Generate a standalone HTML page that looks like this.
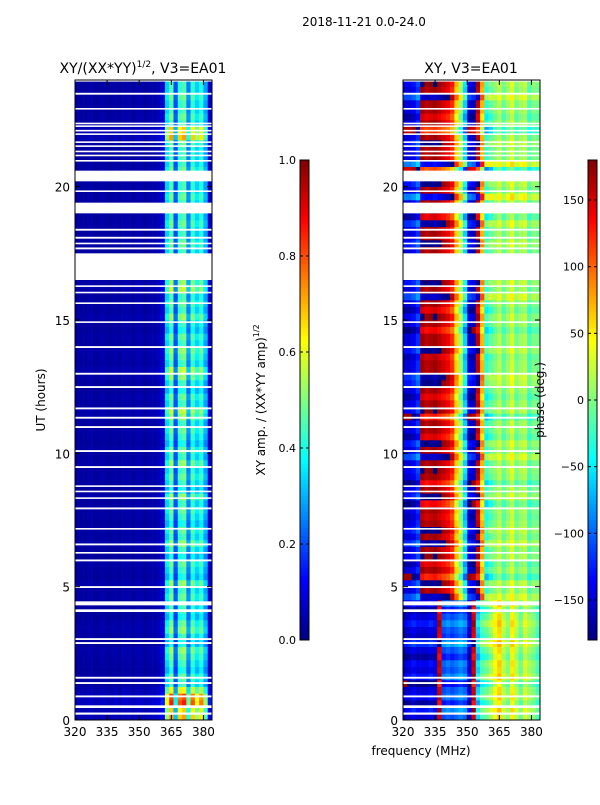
<!DOCTYPE html>
<html><head><meta charset="utf-8"><style>
html,body{margin:0;padding:0;background:#fff;}
svg text{font-family:"DejaVu Sans","Liberation Sans",sans-serif;fill:#000;}
</style></head><body>
<svg id="fig" xmlns="http://www.w3.org/2000/svg" width="600" height="800" viewBox="0 0 600 800">
<rect width="600" height="800" fill="#fff"/>
<text x="364" y="26" font-size="12" text-anchor="middle">2018-11-21 0.0-24.0</text>
<text x="143" y="73" font-size="14" text-anchor="middle">XY/(XX*YY)<tspan font-size="9" dy="-6">1/2</tspan><tspan dy="6">, V3=EA01</tspan></text>
<text x="471" y="73" font-size="14" text-anchor="middle">XY, V3=EA01</text>
<g id="amp"></g>
<g id="pha"></g>
<g id="gapsL"></g>
<g id="gapsR"></g>
<g id="axes"></g>
<text transform="translate(45,400) rotate(-90)" font-size="12" text-anchor="middle">UT (hours)</text>
<text transform="translate(265,400) rotate(-90)" font-size="12" text-anchor="middle">XY amp. / (XX*YY amp)<tspan font-size="8" dy="-6">1/2</tspan></text>
<text transform="translate(544,400) rotate(-90)" font-size="12" text-anchor="middle">phase (deg.)</text>
<text x="421" y="755" font-size="12" text-anchor="middle">frequency (MHz)</text>
</svg>
<script>
const freqs=[320,322,324,326,328,330,332,334,336,338,340,342,344,346,348,350,352,354,356,358,360,362,364,366,368,370,372,374,376,378,380,382];
const ampProfile=[0.03,0.03,0.03,0.04,0.03,0.03,0.04,0.03,0.03,0.04,0.03,0.04,0.04,0.03,0.04,0.04,0.03,0.04,0.04,0.05,0.08,0.33,0.45,0.2,0.42,0.45,0.25,0.42,0.33,0.4,0.28,0.08];
const phaseUpper=[-150,-150,-140,-120,170,160,165,170,160,150,140,120,60,10,-60,-150,-160,160,70,-30,-10,0,20,-10,10,30,-5,10,20,-20,0,-5];
const phaseLower=[-160,-150,-140,-150,-150,-150,-140,-150,150,-110,-100,-110,-100,-90,-100,-150,150,-60,-20,-10,10,40,60,20,0,50,20,-10,30,10,0,-20];
const rowAmp=[1.6,1.5,1.9,1.8,1.4,1.0,1.1,0.9,1.0,1.1,1.2,0.9,1.0,1.2,1.1,0.9,1.0,1.0,1.1,1.0,1.2,0.9,1.0,1.1,0.9,1.0,1.2,1.0,1.1,0.9,1.0,1.1,1.0,1.2,0.9,1.0,1.1,1.0,1.2,1.0,1.1,0.9,1.0,1.1,1.0,1.2,1.3,1.0,1.1,0.9,1.0,1.2,1.3,1.0,1.1,1.2,1.0,1.1,0.9,1.0,1.2,1.0,1.1,1.0,1.3,1.2,1.1,1.0,1.0,0.9,1.0,1.1,1.0,1.0,1.1,1.0,1.2,1.0,1.1,1.0,1.0,1.0,1.1,1.0,1.0,1.0,1.1,1.6,1.5,1.0,1.1,1.0,1.0,1.1,1.0,1.0];
const rowShift=[0,20,-20,10,0,-30,20,0,10,-20,0,30,-10,0,20,0,-20,10,40,0,20,-40,0,-20,10,0,30,0,20,0,-10,0,-30,20,0,-30,0,10,0,40,0,20,-20,0,0,-40,10,0,-20,0,20,30,0,0,-10,20,0,0,-30,0,10,-20,0,40,0,20,0,-10,0,-40,0,20,0,0,30,-20,10,0,60,0,20,0,-60,60,0,0,20,0,-50,0,-20,0,0,40,0,10];
const gaps=[[0.2,0.28],[0.45,0.55],[0.85,0.92],[1.35,1.42],[1.55,1.62],[2.85,2.92],[3.0,3.07],[4.05,4.15],[4.3,4.45],[4.95,5.02],[5.95,6.02],[6.25,6.3],[6.55,6.62],[7.15,7.2],[7.9,7.97],[8.3,8.35],[8.55,8.6],[8.75,8.8],[9.45,9.52],[10.05,10.12],[10.95,11.02],[11.3,11.37],[11.65,11.72],[12.45,12.52],[12.95,13.02],[13.95,14.02],[14.9,14.95],[15.6,15.66],[16.0,16.06],[16.25,16.3],[16.5,17.5],[17.65,17.72],[17.85,17.9],[18.05,18.12],[18.35,18.42],[19.0,19.4],[19.8,19.86],[20.2,20.6],[20.95,21.0],[21.15,21.2],[21.3,21.35],[21.5,21.55],[21.65,21.7],[21.95,22.0],[22.1,22.13],[22.25,22.3],[22.35,22.4],[22.9,22.95],[23.45,23.52],[23.95,24.0]];
const ampTicks=[0,0.2,0.4,0.6,0.8,1.0];
const phaseTicks=[-150,-100,-50,0,50,100,150];
const timeTicks=[0,5,10,15,20];
const freqTicks=[320,335,350,365,380];

const NS="http://www.w3.org/2000/svg";
function el(t,a,p){const e=document.createElementNS(NS,t);for(const k in a)e.setAttribute(k,a[k]);p.appendChild(e);return e;}
function jet(v){v=Math.max(0,Math.min(1,v));
 const r=Math.max(0,Math.min(1,1.5-Math.abs(4*v-3))),g=Math.max(0,Math.min(1,1.5-Math.abs(4*v-2))),b=Math.max(0,Math.min(1,1.5-Math.abs(4*v-1)));
 return `rgb(${Math.round(r*255)},${Math.round(g*255)},${Math.round(b*255)})`;}
const Y0=80,Y1=720;
const y=h=>Y1-(h/24)*(Y1-Y0);
const xL=f=>75+(f-320)*(137/64), xR=f=>403+(f-320)*(137/64);
const nRows=rowAmp.length, dh=24/nRows, df=2;
const amp=document.getElementById('amp'), pha=document.getElementById('pha');
for(let r=0;r<nRows;r++){
 for(let c=0;c<freqs.length;c++){
  const yt=y((r+1)*dh), hh=y(r*dh)-yt;
  const a=el('rect',{x:xL(freqs[c]),y:yt,width:xL(freqs[c]+df)-xL(freqs[c])+0.3,height:hh+0.3,fill:jet(ampProfile[c]*rowAmp[r])},amp);
  
  
  let p=(r*dh<4.5?phaseLower[c]:phaseUpper[c]);
  p+=rowShift[r]*(c<21?1:0.5);
  p=((p+180)%360+360)%360-180;
  const q=el('rect',{x:xR(freqs[c]),y:yt,width:xR(freqs[c]+df)-xR(freqs[c])+0.3,height:hh+0.3,fill:jet((p+180)/360)},pha);
  
  
 }
}
for(const [g0,g1] of gaps){
 const yt=y(g1),hh=Math.max(1.6,y(g0)-yt);
 const gl=el('rect',{x:75,y:yt,width:137,height:hh,fill:'#fff'},document.getElementById('gapsL'));
 
 
 const gr=el('rect',{x:403,y:yt,width:137,height:hh,fill:'#fff'},document.getElementById('gapsR'));
 
 
}
const ax=document.getElementById('axes');
[[75,xL],[403,xR]].forEach(([x0,xf],i)=>{
 const fr=el('rect',{x:x0,y:Y0,width:137,height:Y1-Y0,fill:'none',stroke:'#000','stroke-width':1},ax);
 
 
 timeTicks.forEach(t=>{
  el('line',{x1:x0,x2:x0+5,y1:y(t),y2:y(t),stroke:'#000'},ax);
  el('line',{x1:x0+137,x2:x0+132,y1:y(t),y2:y(t),stroke:'#000'},ax);
  const tl=el('text',{x:x0-5,y:y(t)+5,'font-size':12,'text-anchor':'end'},ax);tl.textContent=t;
  
  
 });
 freqTicks.forEach(f=>{
  el('line',{x1:xf(f),x2:xf(f),y1:Y1,y2:Y1-5,stroke:'#000'},ax);
  el('line',{x1:xf(f),x2:xf(f),y1:Y0,y2:Y0+5,stroke:'#000'},ax);
  const fl=el('text',{x:xf(f),y:Y1+16,'font-size':12,'text-anchor':'middle'},ax);fl.textContent=f;
  
  
 });
});
function colorbar(x0,ticks,lo,hi,name){
 const g=el('g',{},ax);
 
 
 for(let i=0;i<120;i++){el('rect',{x:x0,y:640-(i+1)*4,width:9,height:4.3,fill:jet((i+0.5)/120)},g);}
 el('rect',{x:x0,y:160,width:9,height:480,fill:'none',stroke:'#000'},g);
 ticks.forEach(t=>{const yy=640-(t-lo)/(hi-lo)*480;
  el('line',{x1:x0,x2:x0+3,y1:yy,y2:yy,stroke:'#000'},g);
  el('line',{x1:x0+9,x2:x0+6,y1:yy,y2:yy,stroke:'#000'},g);
  const tt=el('text',{x:x0-4,y:yy+4,'font-size':11,'text-anchor':'end'},g);
  tt.textContent=(lo===0?t.toFixed(1):(t<0?'\u2212'+(-t):t));
  
  
 });
}
colorbar(300,ampTicks,0,1,'amp-colorbar');
colorbar(588,phaseTicks,-180,180,'phase-colorbar');
</script>
</body></html>
